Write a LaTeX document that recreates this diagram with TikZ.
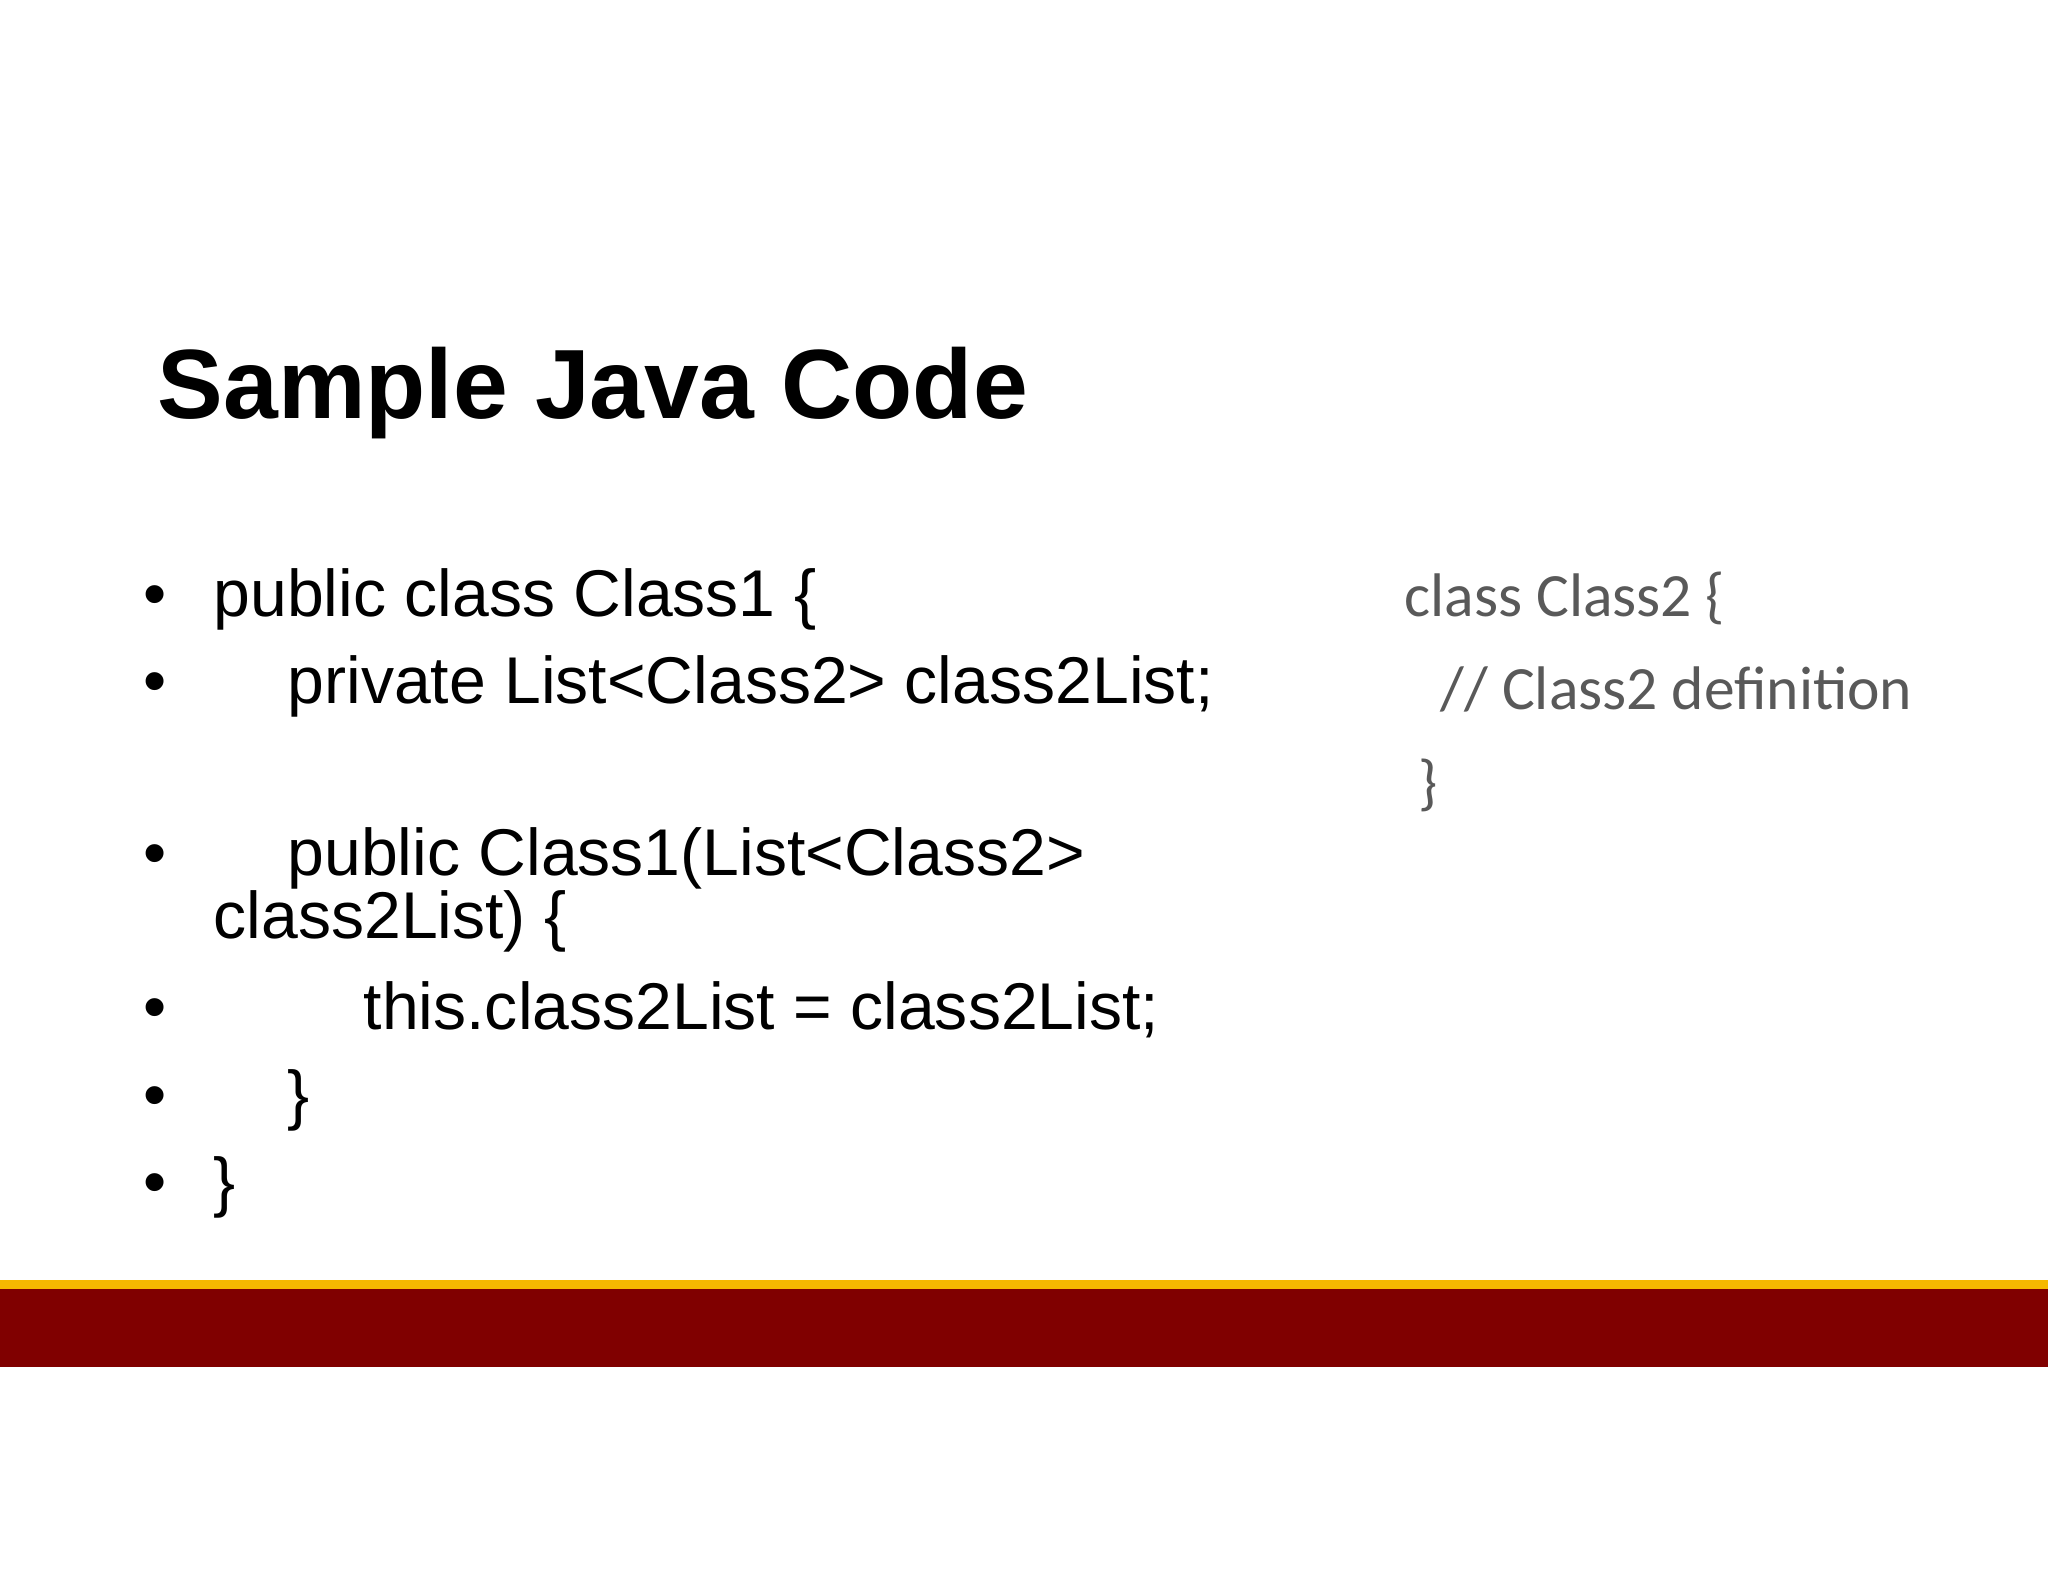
\documentclass[tikz,border=0pt]{standalone}
\usepackage{fontspec}
\setmainfont{Liberation Sans}
\newfontfamily\carlitofont{Carlito}
\definecolor{bandred}{HTML}{800000}
\definecolor{bandyellow}{HTML}{F5B800}
\definecolor{codegray}{HTML}{595959}
\begin{document}
\begin{tikzpicture}[x=0.01cm,y=-0.01cm,
  code/.style={anchor=base west,inner sep=0pt,font=\fontsize{18.8}{22}\selectfont},
  bul/.style={anchor=base west,inner sep=0pt,font=\fontsize{18.8}{22}\selectfont},
  cls/.style={anchor=base west,inner sep=0pt,text=codegray,font=\carlitofont\fontsize{17.5}{21}\selectfont}]
\useasboundingbox (0,0) rectangle (2048,1582);
\fill[white] (0,0) rectangle (2048,1582);
\node[anchor=base west,inner sep=0pt,font=\bfseries\fontsize{28}{32}\selectfont] (title) at (157,418) {Sample Java Code};
\foreach \y/\n in {616/b1,703/b2,875/b3,1029/b4,1117/b5,1204/b6}{
  \node[bul] (\n) at (143,\y) {•};
}
\node[code] (l1) at (213,616) {public class Class1 \{};
\node[code] (l2) at (287,703) {private List<Class2> class2List;};
\node[code] (l3) at (287,875) {public Class1(List<Class2>};
\node[code] (l3b) at (213,938) {class2List) \{};
\node[code] (l4) at (363,1029) {this.class2List = class2List;};
\node[code] (l5) at (287,1117) {\}};
\node[code] (l6) at (213,1204) {\}};
\node[cls] (c1) at (1404,616) {class Class2 \{};
\node[cls] (c2) at (1440,709) {// Class2 definition};
\node[cls] (c3) at (1418,803) {\}};
\fill[bandyellow] (0,1280) rectangle (2048,1290);
\fill[bandred] (0,1289) rectangle (2048,1367);
\end{tikzpicture}
\end{document}
